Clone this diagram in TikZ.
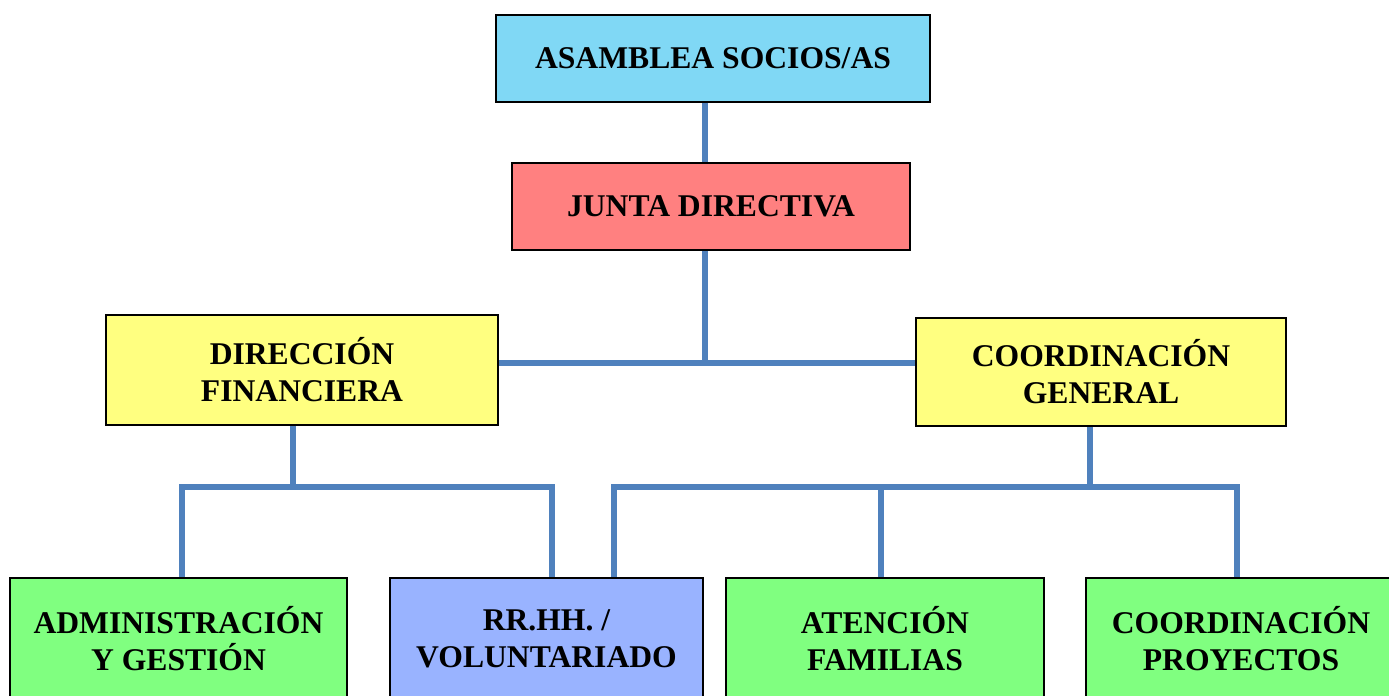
\documentclass[tikz,border=0pt]{standalone}
\usepackage{fontspec}
\setmainfont{Liberation Serif}

\definecolor{asamblue}{HTML}{80D8F5}
\definecolor{juntared}{HTML}{FF8080}
\definecolor{diryellow}{HTML}{FFFF80}
\definecolor{areagreen}{HTML}{80FF80}
\definecolor{rrhhblue}{HTML}{99B3FF}
\definecolor{linkblue}{HTML}{4F81BD}

\tikzset{
  orgbox/.style={draw, line width=1.1pt, align=center, inner sep=0pt,
    font=\bfseries\fontsize{18}{21}\selectfont},
  conn/.style={draw=linkblue, line width=3.2pt}
}

\begin{document}
\begin{tikzpicture}[x=0.02cm, y=-0.02cm]
  \useasboundingbox (0,0) rectangle (1389,696);

  % top levels
  \node[orgbox, fill=asamblue, minimum width=8.68cm, minimum height=1.74cm]
    (asamblea) at (713,58.5) {ASAMBLEA SOCIOS/AS};
  \node[orgbox, fill=juntared, minimum width=7.96cm, minimum height=1.74cm]
    (junta) at (711,206.5) {JUNTA DIRECTIVA};

  \node[orgbox, fill=diryellow, minimum width=7.84cm, minimum height=2.2cm]
    (dirfin) at (302,370) {DIRECCIÓN\\FINANCIERA};
  \node[orgbox, fill=diryellow, minimum width=7.4cm, minimum height=2.16cm]
    (coordgen) at (1101,372) {COORDINACIÓN\\GENERAL};

  % bottom row
  \node[orgbox, fill=areagreen, minimum width=6.74cm, minimum height=2.44cm]
    (admin) at (178.5,639) {ADMINISTRACIÓN\\Y GESTIÓN};
  \node[orgbox, fill=rrhhblue, minimum width=6.26cm, minimum height=2.44cm]
    (rrhh) at (546.5,639) {RR.HH. /\\VOLUNTARIADO};
  \node[orgbox, fill=areagreen, minimum width=6.36cm, minimum height=2.44cm]
    (atencion) at (885,639) {ATENCIÓN\\FAMILIAS};
  \node[orgbox, fill=areagreen, minimum width=6.2cm, minimum height=2.44cm]
    (coordproy) at (1241,639) {COORDINACIÓN\\PROYECTOS};

  % connectors
  \coordinate (hub) at (705,363);
  \coordinate (dfbus) at (293,487);
  \coordinate (dfl) at (182,487);
  \coordinate (dfr) at (552,487);
  \coordinate (cgbus) at (1090,487);
  \coordinate (cgl) at (614,487);
  \coordinate (cgm) at (881,487);
  \coordinate (cgr) at (1237,487);

  \draw[conn] (asamblea.south -| hub) -- (junta.north -| hub);
  \draw[conn] (junta.south -| hub) -- (hub);
  \draw[conn] (dirfin.east |- hub) -- (coordgen.west |- hub);

  \draw[conn] (dirfin.south -| dfbus) -- (dfbus);
  \draw[conn] (admin.north -| dfl) -- (dfl) -- (dfr) -- (rrhh.north -| dfr);

  \draw[conn] (coordgen.south -| cgbus) -- (cgbus);
  \draw[conn] (rrhh.north -| cgl) -- (cgl) -- (cgr) -- (coordproy.north -| cgr);
  \draw[conn] (cgm) -- (atencion.north -| cgm);

\end{tikzpicture}
\end{document}
